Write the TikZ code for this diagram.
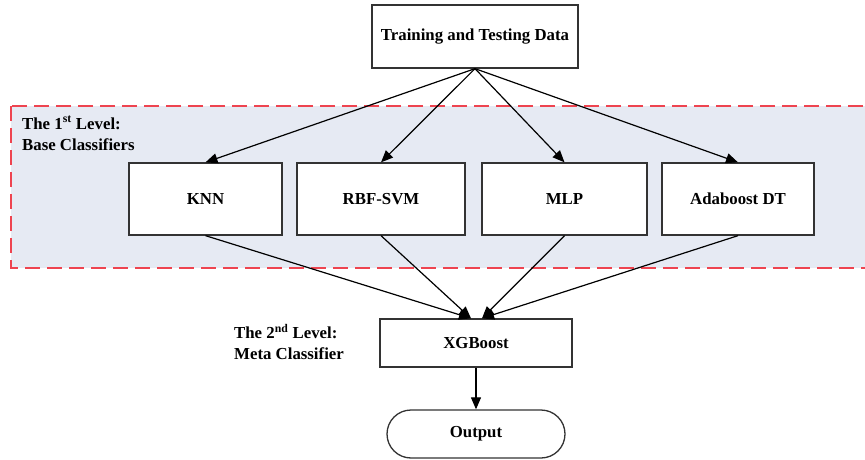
\documentclass[tikz,border=0pt]{standalone}
\usepackage{fontspec}
\setmainfont{Liberation Serif}
\usetikzlibrary{arrows.meta}
\definecolor{panelfill}{HTML}{E6EAF3}
\definecolor{panelline}{HTML}{EE4450}
\definecolor{boxline}{HTML}{333333}
\tikzset{
  every node/.style={font=\fontsize{16.8}{21}\selectfont\bfseries},
  procbox/.style={draw=boxline, line width=1.3pt, fill=white, inner sep=0pt,
    minimum height=72pt},
  endbox/.style={draw=boxline, line width=1.3pt, fill=white, inner sep=0pt,
    rounded corners=24pt, minimum height=48pt, minimum width=178pt},
  flow/.style={line width=1.2pt, -{Triangle[length=12pt,width=10pt]}},
  levellabel/.style={anchor=north west, align=left, inner sep=0pt}
}
\begin{document}
\begin{tikzpicture}[x=1pt,y=-1pt]
\useasboundingbox (0,0) rectangle (865,460);
\fill[white] (0,0) rectangle (865,460);

% first-level panel
\draw[panelline, fill=panelfill, line width=2pt, dash pattern=on 15pt off 7pt]
  (11,106) rectangle (880,268);
\node[levellabel] (lvl1) at (22,116) {The 1\textsuperscript{st} Level:\\Base Classifiers};

% data source
\node[procbox, minimum width=206pt, minimum height=63pt] (data) at (475,36.5) {Training and Testing Data};

% base classifiers
\node[procbox, minimum width=153pt] (knn) at (205.5,199) {KNN};
\node[procbox, minimum width=168pt] (rbf) at (381,199) {RBF-SVM};
\node[procbox, minimum width=165pt] (mlp) at (564.5,199) {MLP};
\node[procbox, minimum width=152pt] (ada) at (738,199) {Adaboost DT};

% meta classifier and output
\node[procbox, minimum width=192pt, minimum height=48pt] (xgb) at (476,343) {XGBoost};
\node[levellabel] (lvl2) at (234,324) {The 2\textsuperscript{nd} Level:\\Meta Classifier};
\node[endbox] (out) at (476,434) {Output};

% connectors
\foreach \b in {knn,rbf,mlp,ada}
  \draw[flow] (data.south) -- (\b.north);
\draw[flow] (knn.south) -- ([xshift=-5pt]xgb.north);
\draw[flow] (rbf.south) -- ([xshift=-5pt]xgb.north);
\draw[flow] (mlp.south) -- ([xshift=6pt]xgb.north);
\draw[flow] (ada.south) -- ([xshift=6pt]xgb.north);
\draw[flow] (xgb.south) -- (out.north);
\end{tikzpicture}
\end{document}
